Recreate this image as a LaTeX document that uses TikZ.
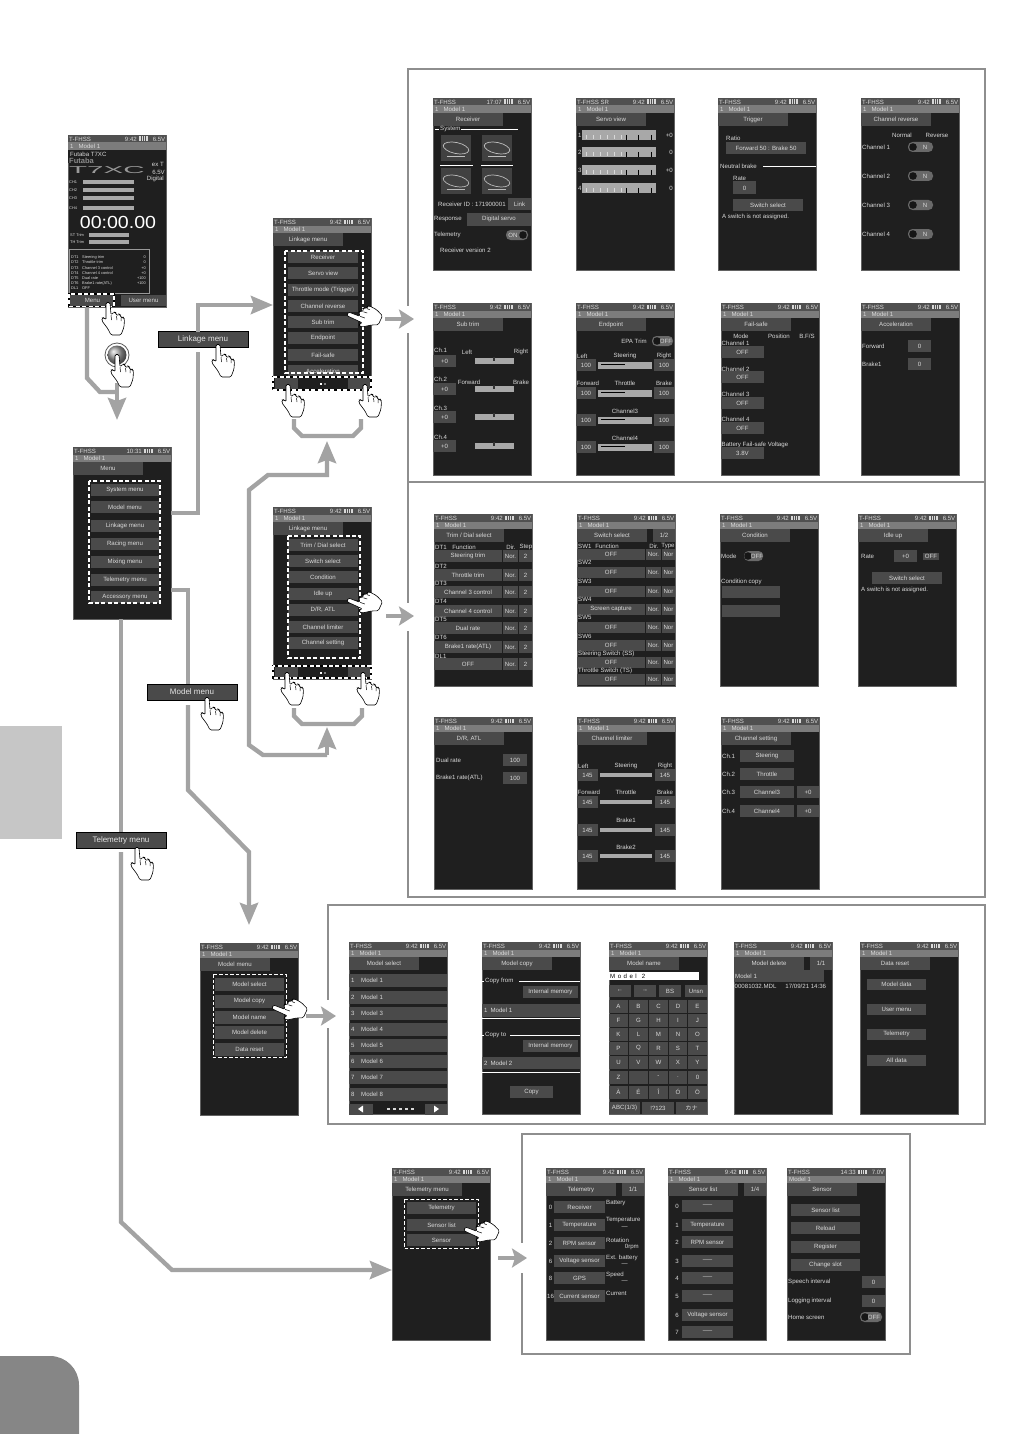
\documentclass[tikz,border=0pt]{standalone}
\usepackage{fontspec}
\setmainfont{Liberation Sans}
\newfontfamily\cjkf{Noto Sans CJK JP}
\usetikzlibrary{arrows.meta,calc,shapes.geometric}
\definecolor{scrbg}{HTML}{1F1F1F}
\definecolor{btnc}{HTML}{4A4A4A}
\definecolor{txtc}{HTML}{DADADA}
\definecolor{gline}{HTML}{A3A3A3}
\definecolor{framec}{HTML}{8E8E8E}
\definecolor{stat}{HTML}{505050}
\definecolor{stat2}{HTML}{7C7C7C}
\definecolor{barc}{HTML}{A8A8A8}
\tikzset{
 screenbox/.style={draw=scrbg!70!white,line width=.3pt,fill=scrbg,minimum width=98pt,minimum height=172pt,inner sep=0pt},
 lab/.style={font=\fontsize{6.1}{6.5}\selectfont,text=txtc,inner sep=0pt},
 tinylab/.style={font=\fontsize{3.9}{4}\selectfont,text=txtc,inner sep=0pt},
 bt/.style={fill=btnc,inner sep=0pt,font=\fontsize{6.1}{6.5}\selectfont,text=txtc},
 menulabel/.style={fill=btnc,draw=black,line width=.4pt,minimum width=90pt,minimum height=16pt,inner sep=0pt,font=\fontsize{8}{9}\selectfont,text=white!90!black},
 conn/.style={draw=gline,line width=4.4pt},
 connarrow/.style={draw=gline,line width=4.4pt,-{Stealth[length=22pt,width=18pt,inset=3pt]}},
 smallarrow/.style={draw=gline,line width=4.4pt,-{Stealth[length=15pt,width=19pt,inset=3pt]}},
 framebox/.style={draw=framec,line width=1.5pt},
 dashbox/.style={draw=white,line width=1.5pt,dash pattern=on 4pt off 2.4pt},
 thindash/.style={draw=white,line width=1pt,dash pattern=on 3.5pt off 2pt},
 handpic/.pic={
  \draw[fill=white,draw=black,line width=.6pt,rounded corners=1.4pt]
   (-2,-.5)--(2,-.5)--(3,12)--(6,9)--(8,9.5)--(8.5,13)--(11,11)--(12.5,12)--(13,15)--(15,14)--(16.5,16)--(16,24)--(13,32)--(3,32)--(0,26)--(-6,18)--(-6,15)--(-4,14.5)--(-2,17)--cycle;
  \draw[black,line width=.5pt] (3,12)--(3.5,17) (8.5,13)--(9,17) (13,15)--(13,18);
 }
}
\newcounter{nid}
\gdef\stleft{T-FHSS}\gdef\stvolt{6.5V}\gdef\stmodel{1\hspace{5pt}Model 1}\gdef\tabw{70}
\newcommand\TX[4][west]{\stepcounter{nid}\node[lab,anchor=#1] (t\thenid) at (#2,#3) {#4};}
\newcommand\TY[4][west]{\stepcounter{nid}\node[tinylab,anchor=#1] (t\thenid) at (#2,#3) {#4};}
\newcommand\BT[5]{\stepcounter{nid}\node[bt,minimum width={(#2-#1)*1pt},minimum height=#4pt] (b\thenid) at ({(#1+#2)/2},#3) {#5};}
\newcommand\BAR[4]{\fill[barc] (#1,{#3-#4/2}) rectangle (#2,{#3+#4/2});}
\newcommand\TOG[6]{\fill[stat2!85!black,rounded corners=4.5pt] (#1,{#3-5}) rectangle (#2,{#3+5});\fill[scrbg!70!black] (#4,#3) circle (3.8);\TX[center]{#5}{#3}{#6}}
\newcommand\SCRB[5]{%
 \node[screenbox,anchor=north west] (#1) at (#2,#3) {};
 \begin{scope}[shift={(#2,#3)}]
 \fill[stat] (0,0) rectangle (98,7.5);
 \fill[stat2] (0,7.5) rectangle (98,15);
 \fill[btnc] (0,15) rectangle (\tabw,28);
 \TX{1}{4}{\stleft}
 \TX[east]{69}{4}{#5}
 \fill[white!85!black] (71,1.5) rectangle (80,6);
 \draw[stat,line width=.4pt] (73.5,1.5)--(73.5,6) (75.5,1.5)--(75.5,6) (77.5,1.5)--(77.5,6);
 \TX[east]{97.5}{4}{\stvolt}
 \TX{2}{11.3}{\stmodel}
 \TX[center]{{\tabw/2}}{21.5}{#4}
}
\newcommand\SCRE{\end{scope}\gdef\stleft{T-FHSS}\gdef\stvolt{6.5V}\gdef\stmodel{1\hspace{5pt}Model 1}\gdef\tabw{70}}
\newcommand\PAGETAB[1]{\BT{76}{98}{21.5}{13}{#1}}
\newcommand\NAV{\BT{2}{25}{165.5}{12}{}\BT{75}{98}{165.5}{12}{}\fill[white] (47,164.5) rectangle (49,166.5);\fill[gray] (51,164.5) rectangle (53,166.5);}
\begin{document}
\begin{tikzpicture}[x=1pt,y=-1pt]
\useasboundingbox (0,0) rectangle (1032,1434);
% page decorations
\fill[gray!45] (0,726) rectangle (62,839);
\fill[gray!95] (0,1434) -- (0,1356) -- (50,1356) arc[start angle=-90,end angle=0,radius=29] -- (79,1434) -- cycle;
% frames
\draw[framebox] (408,69) rectangle (985,897);
\draw[framebox] (408,482) -- (985,482);
\draw[framebox] (328,905) rectangle (985,1124);
\draw[framebox] (522,1134) rectangle (910,1354);
\fill[white] (405,306) rectangle (411,333);
\fill[white] (405,603) rectangle (411,631);
\fill[white] (325,1000) rectangle (331,1028);
\fill[white] (519,1243) rectangle (525,1273);
%% HOME
\SCRB{home}{68}{135}{}{9:42}
\fill[scrbg] (0,15) rectangle (70,28);
\TX{2}{19}{Futaba T7XC}
\node[lab,anchor=west,text=gray!90,font=\bfseries\fontsize{7.5}{8}\selectfont] (fut) at (1,25.5) {Futaba};
\node[lab,anchor=west,text=gray!80,font=\fontsize{10}{11}\selectfont] (t7) at (1,35) {\scalebox{2.95}[1]{T7XC}};
\TX[east]{96}{29}{ex T}\TX[east]{97}{37}{6.5V}\TX[east]{96}{44}{Digital}
\foreach \y/\t in {47/CH1,55/CH2,63/CH3,73/CH4}{\TY{1}{\y}{\t}\BAR{15}{66}{\y}{4}}
\node[lab,text=white,font=\fontsize{17.5}{18}\selectfont] (timer) at (50,87) {\scalebox{1.12}[1]{00:00.00}};
\TY{2}{100}{ST Trim}\BAR{21}{61}{100}{4}
\TY{2}{107}{TH Trim}\BAR{21}{61}{107}{4}
\draw[gray!80,line width=.5pt] (1,114) rectangle (81,158);
\foreach \y/\a/\b/\c in {122/DT1/Steering trim/0,127/DT2/Throttle trim/0,133/DT3/Channel 3 control/+0,138/DT4/Channel 4 control/+0,143/DT5/Dual rate/+100,148/DT6/Brake1 rate(ATL)/+100,153/DL1/OFF/}{\TY{3}{\y}{\a}\TY{14}{\y}{\b}\TY[east]{78}{\y}{\c}}
\BT{2}{47}{165.5}{11}{Menu}\BT{53}{98}{165.5}{11}{User menu}
\SCRE
%% LINKAGE 1
\SCRB{linka}{273}{218}{Linkage menu}{9:42}
\foreach \y/\t in {39/Receiver,55/Servo view,72/Throttle mode (Trigger),88/Channel reverse,104/Sub trim,120/Endpoint,137/Fail-safe,153/Acceleration}{\BT{15}{85}{\y}{12}{\t}}
\NAV
\SCRE
%% LINKAGE 2
\SCRB{linkb}{273}{507}{Linkage menu}{9:42}
\BT{15}{85}{38}{12}{Trim / Dial select}
\BT{15}{85}{103}{12}{D/R, ATL}
\foreach \y/\t in {54/Switch select,70/Condition,87/Idle up,120/Channel limiter,136/Channel setting}{\BT{15}{85}{\y}{12}{\t}}
\NAV
\SCRE
%% MENU
\SCRB{menu}{73}{447}{Menu}{10:31}
\foreach \y/\t in {43/System menu,60/Model menu,79/Linkage menu,97/Racing menu,115/Mixing menu,133/Telemetry menu,150/Accessory menu}{\BT{18}{86}{\y}{12}{\t}}
\SCRE
%% ROW 1
\SCRB{rcv}{433}{98}{Receiver}{17:07}
\TX{7}{31}{System}
\draw[white,line width=.5pt] (2,31)--(6,31) (28,31)--(85,31) (7,67)--(40,67) (48,67)--(80,67);
\draw[gray,line width=.5pt] (15,37)--(30,37) (55,37)--(70,37);
\foreach \x/\y/\c in {23/50/white!75!black,64/50/white!75!black,23/83/gray!55,64/83/gray!55}{
 \fill[scrbg!85!white] ({\x-15},{\y-13}) rectangle ({\x+15},{\y+13});
 \draw[\c,line width=.7pt,rotate around={-12:(\x,\y)}] (\x,\y) ellipse (13 and 5.5);
 \fill[\c] ({\x-9},{\y+8}) rectangle ({\x+9},{\y+9.5});
}
\TX{5}{106}{Receiver ID : 171900001}\BT{75}{98}{106}{12}{Link}
\TX{1}{121}{Response}\BT{34}{98}{121}{13}{Digital servo}
\TX{1}{137}{Telemetry}\TOG{73}{95}{137}{90}{80}{ON}
\TX{7}{152}{Receiver version 2}
\SCRE
\gdef\stleft{T-FHSS SR}
\SCRB{srv}{576}{98}{Servo view}{9:42}
\foreach \y/\n/\v in {37/1/+0,54/2/0,72/3/+0,90/4/0}{\TX{2}{\y}{\n}\BAR{6}{80}{\y}{10}\TX[east]{97}{\y}{\v}
 \foreach \x in {10,17,24,31,38,45}{\draw[white!85!black,line width=.3pt] (\x,{\y})--(\x,{\y+4});}
 \draw[black,line width=.5pt] (50,{\y})--(50,{\y+5}) (62,{\y})--(62,{\y+5}) (75,{\y})--(75,{\y+5});}
\SCRE
\SCRB{trg}{718}{98}{Trigger}{9:42}
\TX{8}{40}{Ratio}\BT{8}{88}{50}{12}{Forward 50 : Brake 50}
\TX{2}{68}{Neutral brake}\draw[white,line width=.5pt] (45,68)--(98,68);
\TX{15}{80}{Rate}\BT{15}{38}{90}{13}{0}
\BT{15}{85}{107}{12}{Switch select}\TX{4}{119}{A switch is not assigned.}
\SCRE
\SCRB{rev}{861}{98}{Channel reverse}{9:42}
\TX[center]{41}{37}{Normal}\TX[center]{76}{37}{Reverse}
\foreach \y/\t in {49/Channel 1,78/Channel 2,107/Channel 3,136/Channel 4}{\TX{1}{\y}{\t}\TOG{47}{72}{\y}{52}{64}{N}}
\SCRE
%% ROW 2
\SCRB{sub}{433}{303}{Sub trim}{9:42}
\foreach \a/\b/\t in {47/58/Ch.1,76/86/Ch.2,105/114/Ch.3,134/143/Ch.4}{\TX{1}{\a}{\t}\BT{0}{23}{\b}{12}{+0}\BAR{42}{81}{\b}{6}\fill[gray!40!black] (60,{\b-4}) rectangle (62,{\b});}
\TX[center]{34}{49}{Left}\TX[center]{88}{49}{Right}\TX[center]{36}{79}{Forward}\TX[center]{88}{79}{Brake}
\SCRE
\SCRB{ep}{576}{303}{Endpoint}{9:42}
\TX[center]{58}{38}{EPA Trim}\TOG{76}{97}{38}{81}{90}{OFF}
\TX{1}{53}{Left}\TX[center]{49}{53}{Steering}\TX[center]{88}{53}{Right}
\TX{0.5}{80}{Forward}\TX[center]{49}{80}{Throttle}\TX[center]{88}{80}{Brake}
\TX[center]{49}{108}{Channel3}\TX[center]{49}{135}{Channel4}
\foreach \y in {62,90,117,144}{\BT{0}{20}{\y}{12}{100}\BT{78}{98}{\y}{12}{100}\BAR{22}{76}{\y}{7}\draw[black,line width=.5pt] (25,{\y-1})--(49,{\y-1});}
\SCRE
\SCRB{fs}{721}{303}{Fail-safe}{9:42}
\TX[center]{20}{33}{Mode}\TX[center]{58}{33}{Position}\TX[center]{86}{33}{B.F/S}
\foreach \a/\b/\t in {40/49/Channel 1,66/74/Channel 2,91/100/Channel 3,116/125/Channel 4}{\TX{0.5}{\a}{\t}\BT{0}{43}{\b}{12}{OFF}}
\TX{0.5}{142}{Battery Fail-safe Voltage}\BT{0}{43}{150}{12}{3.8V}
\SCRE
\SCRB{acc}{861}{303}{Acceleration}{9:42}
\TX{1}{43}{Forward}\BT{47}{70}{43}{12}{0}
\TX{1}{61}{Brake1}\BT{47}{70}{61}{12}{0}
\SCRE
%% ROW 3
\SCRB{trim}{434}{514}{Trim / Dial select}{9:42}
\TX{1}{33}{DT1}\TX[center]{30}{33}{Function}\TX[center]{77}{33}{Dir.}\TX[center]{92}{33}{Step}
\foreach \a/\t in {42/Steering trim,61/Throttle trim,78/Channel 3 control,97/Channel 4 control,114/Dual rate,133/Brake1 rate(ATL),150/OFF}{\BT{0}{68}{\a}{12}{\t}\BT{69}{84}{\a}{12}{Nor.}\BT{85}{98}{\a}{12}{2}}
\foreach \a/\t in {52/DT2,69/DT3,87/DT4,105/DT5,123/DT6,142/DL1}{\TX{1}{\a}{\t}}
\SCRE
\SCRB{sw}{577}{514}{Switch select}{9:42}
\PAGETAB{1/2}
\TX{1}{32}{SW1}\TX[center]{30}{32}{Function}\TX[center]{77}{32}{Dir.}\TX[center]{91}{32}{Type}
\foreach \a/\t in {40/OFF,58/OFF,77/OFF,95/Screen capture,113/OFF,131/OFF,148/OFF,165/OFF}{\BT{0}{68}{\a}{11}{\t}\BT{69}{84}{\a}{11}{Nor.}\BT{85}{98}{\a}{11}{Nor}}
\foreach \a/\t in {48.5/SW2,67/SW3,85.5/SW4,103.5/SW5,122/SW6,139.5/Steering Switch (SS),157/Throttle Switch (TS)}{\TX{1}{\a}{\t}}
\SCRE
\SCRB{cond}{720}{514}{Condition}{9:42}
\TX{1}{42}{Mode}\TOG{24}{43}{42}{28}{37}{OFF}
\TX{1}{68}{Condition copy}\BT{2}{60}{78}{12}{}\BT{2}{60}{97}{12}{}
\SCRE
\SCRB{idle}{858}{514}{Idle up}{9:42}
\TX{3}{42}{Rate}\BT{36}{59}{42}{12}{+0}\BT{65}{81}{42}{7}{OFF}
\BT{14}{84}{64}{12}{Switch select}\TX{3}{76}{A switch is not assigned.}
\SCRE
%% ROW 4
\SCRB{dr}{434}{717}{D/R, ATL}{9:42}
\TX{2}{43}{Dual rate}\BT{69}{93}{43}{12}{100}
\TX{2}{61}{Brake1 rate(ATL)}\BT{69}{93}{61}{12}{100}
\SCRE
\SCRB{lim}{577}{717}{Channel limiter}{9:42}
\TX{1}{49}{Left}\TX[center]{49}{49}{Steering}\TX[center]{88}{49}{Right}
\TX{0.5}{75}{Forward}\TX[center]{49}{75}{Throttle}\TX[center]{88}{75}{Brake}
\TX[center]{49}{103}{Brake1}\TX[center]{49}{130}{Brake2}
\foreach \y in {58,85,113,139}{\BT{0}{21}{\y}{12}{145}\BT{78}{98}{\y}{12}{145}\BAR{23}{75}{\y}{4}}
\SCRE
\SCRB{chs}{721}{717}{Channel setting}{9:42}
\foreach \y/\a/\b in {39/Ch.1/Steering,57/Ch.2/Throttle,75/Ch.3/Channel3,94/Ch.4/Channel4}{\TX{1}{\y}{\a}\BT{19}{73}{\y}{12}{\b}}
\BT{76}{98}{75}{12}{+0}\BT{76}{98}{94}{12}{+0}
\SCRE
%% MODEL
\SCRB{mdl}{200}{943}{Model menu}{9:42}
\foreach \y/\t in {41/Model select,58/Model copy,74/Model name,89/Model delete,106/Data reset}{\BT{15}{84}{\y}{13}{\t}}
\SCRE
\SCRB{msel}{349}{942}{Model select}{9:42}
\foreach \y/\n/\t in {38/1/Model 1,55/2/Model 1,71/3/Model 3,87/4/Model 4,103/5/Model 5,119/6/Model 6,135/7/Model 7,152/8/Model 8}{\BT{0}{98}{\y}{13}{}\TX{2}{\y}{\n}\TX{12}{\y}{\t}}
\BT{0}{24}{167}{11}{}\BT{76}{98}{167}{11}{}
\fill[white] (14,163.5)--(14,170.5)--(9,167)--cycle;
\fill[white] (85,163.5)--(85,170.5)--(90,167)--cycle;
\foreach \x in {38,44,50,56,62}{\fill[white!85!black] (\x,165.5) rectangle ({\x+2.5},168);}
\SCRE
\SCRB{mcp}{482}{942}{Model copy}{9:42}
\TX{3}{39}{Copy from}\draw[white,line width=.6pt] (0,39)--(2,39) (37,39)--(98,39) (0,76)--(98,76) (0,93)--(2,93) (28,93)--(98,93) (0,130)--(98,130);
\BT{41}{96}{50}{12}{Internal memory}
\BT{0}{98}{68}{13}{}\TX{2}{68}{1\hspace{3pt}Model 1}
\TX{3}{93}{Copy to}
\BT{41}{96}{104}{12}{Internal memory}
\BT{0}{98}{121}{12}{}\TX{2}{121}{2\hspace{3pt}Model 2}
\BT{28}{71}{150}{12}{Copy}
\SCRE
\SCRB{mnm}{609}{942}{Model name}{9:42}
\fill[white] (0,30) rectangle (90,38);
\node[lab,anchor=west,text=black] (mnmt) at (1,34) {M\hspace{2.5pt}o\hspace{2.5pt}d\hspace{2.5pt}e\hspace{2.5pt}l\hspace{5pt}2};
\BT{0}{22}{49}{12}{←}\BT{25}{47}{49}{12}{→}\BT{50}{72}{49}{12}{BS}\BT{76}{98}{49}{12}{Unsn}
\foreach \y/\a/\b/\c/\d/\e in {64/A/B/C/D/E,78/F/G/H/I/J,92/K/L/M/N/O,106/P/Q/R/S/T,120/U/V/W/X/Y,135/Z/ /-/./0,150/À/É/Î/Ó/Ö}{
 \BT{0}{19}{\y}{13}{\a}\BT{20}{39}{\y}{13}{\b}\BT{40}{59}{\y}{13}{\c}\BT{60}{78}{\y}{13}{\d}\BT{79}{98}{\y}{13}{\e}}
\BT{0}{31}{166}{12}{ABC(1/3)}\BT{33}{65}{166}{12}{!?123}\BT{67}{98}{166}{12}{\cjkf カナ}
\SCRE
\SCRB{mdel}{734}{942}{Model delete}{9:42}
\PAGETAB{1/1}
\BT{0}{90}{34}{12}{}\TX{1}{34}{Model 1}\TX{0.5}{44}{00081032.MDL\hspace{9pt}17/09/21 14:36}
\SCRE
\SCRB{drs}{860}{942}{Data reset}{9:42}
\foreach \y/\t in {42/Model data,67/User menu,92/Telemetry,118/All data}{\BT{7}{66}{\y}{11}{\t}}
\SCRE
%% TELEMETRY
\SCRB{tmn}{392}{1168}{Telemetry menu}{9:42}
\foreach \y/\t in {40/Telemetry,57/Sensor list,72/Sensor}{\BT{15}{84}{\y}{12}{\t}}
\SCRE
\SCRB{tel}{546}{1168}{Telemetry}{9:42}
\PAGETAB{1/1}
\foreach \y/\n/\t in {39/0/Receiver,57/1/Temperature,75/2/RPM sensor,93/6/Voltage sensor,110/8/GPS,128/16/Current sensor}{\TX[center]{4.5}{\y}{\n}\BT{8}{59}{\y}{12}{\t}}
\TX{60}{35}{Battery}\TX{60}{52}{Temperature}\TX[east]{82}{60}{---}\TX{60}{72}{Rotation}\TX[east]{93}{79}{0rpm}\TX{60}{90}{Ext. battery}\TX[east]{82}{97}{---}\TX{60}{107}{Speed}\TX[east]{82}{114}{---}\TX{60}{125}{Current}
\SCRE
\SCRB{sen}{668}{1168}{Sensor list}{9:42}
\PAGETAB{1/4}
\foreach \y/\n/\t in {38/0/-----,57/1/Temperature,74/2/RPM sensor,93/3/-----,110/4/-----,128/5/-----,147/6/Voltage sensor,164/7/-----}{\TX[center]{9}{\y}{\n}\BT{14}{65}{\y}{12}{\t}}
\SCRE
\gdef\stvolt{7.0V}\gdef\stmodel{Model 1}
\SCRB{sns}{787}{1168}{Sensor}{14:33}
\foreach \y/\t in {42/Sensor list,60/Reload,79/Register,97/Change slot}{\BT{4}{73}{\y}{12}{\t}}
\TX{1}{114}{Speech interval}\BT{75}{98}{114}{12}{0}
\TX{1}{133}{Logging interval}\BT{75}{98}{133}{12}{0}
\TX{1}{149}{Home screen}\TOG{73}{95}{149}{78}{87}{OFF}
\SCRE
%% dashed highlights
\draw[black,line width=1.2pt] (69,294) rectangle (114,306.5);
\draw[dashbox] (69,294) rectangle (114,306.5);
\draw[dashbox] (285,251) rectangle (363,373);
\draw[black,line width=1.2pt] (273,377) rectangle (371,390);
\draw[dashbox] (273,377) rectangle (371,390);
\draw[dashbox] (288,536) rectangle (360,658);
\draw[black,line width=1.2pt] (273,666) rectangle (371,678);
\draw[dashbox] (273,666) rectangle (371,678);
\draw[dashbox] (89,481) rectangle (160,603);
\draw[thindash] (213,974) rectangle (286,1057);
\draw[thindash] (404,1199) rectangle (478,1248);
%% waypoints
\coordinate (wa1) at (87,378);\coordinate (wa2) at (100,392);\coordinate (wa3) at (117,392);
\coordinate (wa4) at (117,383);\coordinate (wa5) at (117,420);
\coordinate (wb1) at (198,513);\coordinate (wb2) at (198,352);\coordinate (wb3) at (198,332);\coordinate (wb4) at (198,305);
\coordinate (wc1) at (188,590);\coordinate (wc2) at (188,684);\coordinate (wc3) at (188,705);\coordinate (wc4) at (188,790);\coordinate (wc5) at (249,852);\coordinate (wc6) at (249,925);
\coordinate (wd0) at (121,618);\coordinate (wd1) at (121,832);\coordinate (wd2) at (121,852);\coordinate (wd3) at (121,1222);\coordinate (wd4) at (172,1270);
\coordinate (we1) at (327,755);\coordinate (we2) at (263,755);\coordinate (we3) at (249,745);\coordinate (we4) at (249,490);\coordinate (we5) at (268,475);\coordinate (we6) at (327,475);\coordinate (we7) at (327,441);\coordinate (we8) at (327,727);
\coordinate (uA1) at (294,419);\coordinate (uA2) at (294,428);\coordinate (uA3) at (302,436);\coordinate (uA4) at (353,436);\coordinate (uA5) at (361,428);\coordinate (uA6) at (361,419);
\coordinate (uB1) at (294,708);\coordinate (uB2) at (294,716);\coordinate (uB3) at (302,724);\coordinate (uB4) at (354,724);\coordinate (uB5) at (362,716);\coordinate (uB6) at (362,708);
%% labels
\node[menulabel] (lbl1) at (203,339.5) {Linkage menu};
\node[menulabel] (lbl2) at (192,692) {Model menu};
\node[menulabel] (lbl3) at (121,840) {Telemetry menu};
%% button
\node[circle,draw=gray!70!black,line width=.8pt,fill=white,minimum size=24pt,inner sep=0pt] (ring) at (117,355) {};
\node[circle,ball color=gray!75,minimum size=19pt,inner sep=0pt] (btnball) at (117,355) {};
%% connectors
\draw[conn] (home.south -| wa1) -- (wa1) -- (wa2) -- (wa3);
\draw[connarrow] (wa4) -- (wa5);
\draw[conn] (menu.east |- wb1) -- (wb1) -- (wb2);
\draw[connarrow] (wb3) -- (wb4) -- (linka.west |- wb4);
\draw[conn] (menu.east |- wc1) -- (wc1) -- (wc2);
\draw[connarrow] (wc3) -- (wc4) -- (wc5) -- (wc6);
\draw[conn] (menu.south -| wd0) -- (wd1);
\draw[connarrow] (wd2) -- (wd3) -- (wd4) -- (tmn.west |- wd4);
\draw[connarrow] (we1) -- (we2) -- (we3) -- (we4) -- (we5) -- (we6) -- (we7);
\draw[connarrow] (we1) -- (we8);
\draw[conn] (uA1) -- (uA2) -- (uA3) -- (uA4) -- (uA5) -- (uA6);
\draw[conn] (uB1) -- (uB2) -- (uB3) -- (uB4) -- (uB5) -- (uB6);
\coordinate (sa1) at (385,319);\coordinate (sa2) at (414,319);
\coordinate (sb1) at (386,616);\coordinate (sb2) at (414,616);
\coordinate (sc1) at (306,1016);\coordinate (sc2) at (336,1016);
\coordinate (sd1) at (498,1258);\coordinate (sd2) at (527,1258);
\draw[smallarrow] (sa1) -- (sa2);
\draw[smallarrow] (sb1) -- (sb2);
\draw[smallarrow] (sc1) -- (sc2);
\draw[smallarrow] (sd1) -- (sd2);
%% hands
\pic at (108,303) {handpic};
\pic at (117,355) {handpic};
\pic at (218,345) {handpic};
\pic at (207,698) {handpic};
\pic at (137,848) {handpic};
\pic at (288,385) {handpic};
\pic at (365,385) {handpic};
\pic at (287,673) {handpic};
\pic at (363,673) {handpic};
\pic[rotate=65] at (348,314) {handpic};
\pic[rotate=65] at (348,600) {handpic};
\pic[rotate=65] at (273,1007) {handpic};
\pic[rotate=65] at (465,1229) {handpic};
\end{tikzpicture}
\end{document}
